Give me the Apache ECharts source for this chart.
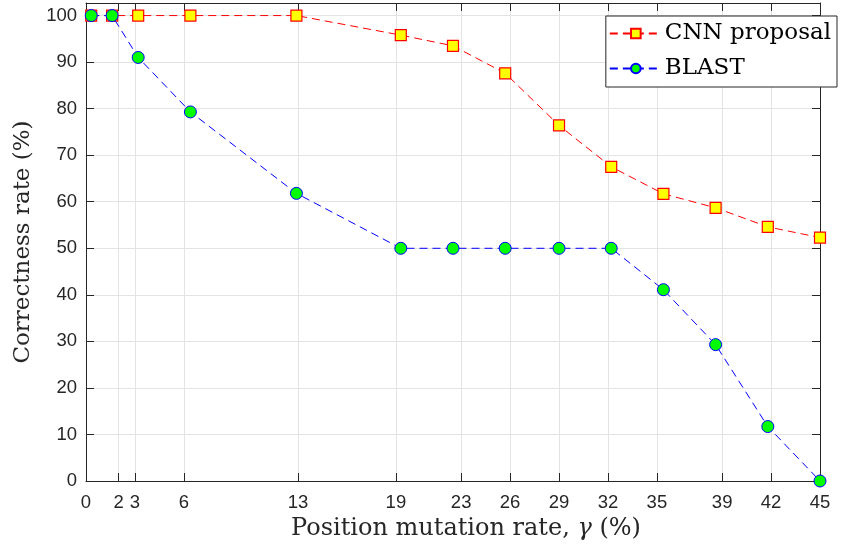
<!DOCTYPE html>
<html>
<head>
<meta charset="utf-8">
<script src="https://cdn.jsdelivr.net/npm/echarts@6/dist/echarts.min.js"></script>
<style>
  html, body { margin: 0; padding: 0; background: #fff; }
  #chart { width: 846px; height: 554px; }
</style>
</head>
<body>
<div id="chart"></div>
<script>
// position mutation rate (x) and correctness rate (y)
const xValues = [0.32, 1.6, 3.2, 6.4, 12.9, 19.3, 22.5, 25.7, 29.0, 32.2, 35.4, 38.6, 41.8, 45.0];
const cnnValues = [100, 100, 100, 100, 100, 95.8, 93.5, 87.6, 76.4, 67.5, 61.7, 58.7, 54.6, 52.3];
const blastValues = [100, 100, 91.0, 79.3, 61.8, 50, 50, 50, 50, 50, 41.1, 29.3, 11.7, 0];
const xTicks = [0, 2, 3, 6, 13, 19, 23, 26, 29, 32, 35, 39, 42, 45];
const yTicks = [0, 10, 20, 30, 40, 50, 60, 70, 80, 90, 100];

const axisColor = '#262626';
const gridColor = '#e3e3e3';
const tickFont = { color: axisColor, fontSize: 18.5, fontFamily: 'Liberation Sans, Arial, sans-serif' };
const titleFont = 'DejaVu Serif, serif';

function pairs(xs, ys) {
  return xs.map((x, i) => [x, ys[i]]);
}

let myChart = echarts.init(document.getElementById('chart'), null, { renderer: 'canvas' });
myChart.setOption({
  animation: false,
  backgroundColor: '#fff',
  grid: { left: 86, right: 26, top: 3, bottom: 73, containLabel: false },
  legend: {
    orient: 'vertical',
    right: 9,
    top: 16,
    backgroundColor: '#fff',
    borderColor: axisColor,
    borderWidth: 1,
    borderRadius: 0,
    padding: [6, 6, 7, 3],
    itemGap: 12,
    itemWidth: 52,
    itemHeight: 12,
    textStyle: { fontSize: 23, fontFamily: titleFont, color: '#000', padding: [0, 0, 0, -2] },
    data: ['CNN proposal', 'BLAST']
  },
  xAxis: [
    {
      type: 'value',
      min: 0,
      max: 45,
      name: 'Position mutation rate, {i|γ} (%)',
      nameLocation: 'middle',
      nameGap: 31,
      nameTextStyle: {
        fontSize: 24, fontFamily: titleFont, color: axisColor, padding: [0, 0, 0, 26],
        rich: { i: { fontSize: 24, fontFamily: titleFont, fontStyle: 'italic', color: axisColor } }
      },
      axisLine: { show: true, onZero: false, lineStyle: { color: axisColor, width: 1 } },
      axisTick: { show: true, inside: true, length: 8, customValues: xTicks, lineStyle: { color: axisColor } },
      axisLabel: { ...tickFont, margin: 12, customValues: xTicks },
      splitLine: { show: true, lineStyle: { color: gridColor, width: 1 } }
    },
    {
      type: 'value',
      position: 'top',
      min: 0,
      max: 45,
      axisLine: { show: true, onZero: false, lineStyle: { color: axisColor, width: 1 } },
      axisTick: { show: true, inside: true, length: 8, customValues: xTicks, lineStyle: { color: axisColor } },
      axisLabel: { show: false },
      splitLine: { show: false }
    }
  ],
  yAxis: [
    {
      type: 'value',
      min: 0,
      max: 102.7,
      name: 'Correctness rate (%)',
      nameLocation: 'middle',
      nameGap: 51,
      nameTextStyle: { fontSize: 23, fontFamily: titleFont, color: axisColor },
      axisLine: { show: true, onZero: false, lineStyle: { color: axisColor, width: 1 } },
      axisTick: { show: true, inside: true, length: 8, customValues: yTicks, lineStyle: { color: axisColor } },
      axisLabel: { ...tickFont, margin: 9, customValues: yTicks },
      splitLine: { show: true, lineStyle: { color: gridColor, width: 1 } }
    },
    {
      type: 'value',
      position: 'right',
      min: 0,
      max: 102.7,
      axisLine: { show: true, onZero: false, lineStyle: { color: axisColor, width: 1 } },
      axisTick: { show: true, inside: true, length: 8, customValues: yTicks, lineStyle: { color: axisColor } },
      axisLabel: { show: false },
      splitLine: { show: false }
    }
  ],
  series: [
    {
      name: 'CNN proposal',
      type: 'line',
      data: pairs(xValues, cnnValues),
      symbol: 'rect',
      symbolSize: 11,
      clip: false,
      z: 3,
      lineStyle: { color: '#ff0000', width: 1, type: [8, 5] },
      itemStyle: { color: '#ffff00', borderColor: '#ff0000', borderWidth: 1.2 }
    },
    {
      name: 'BLAST',
      type: 'line',
      data: pairs(xValues, blastValues),
      symbol: 'circle',
      symbolSize: 12,
      clip: false,
      z: 4,
      lineStyle: { color: '#0000ff', width: 1, type: [8, 5] },
      itemStyle: { color: '#00ff00', borderColor: '#0000ff', borderWidth: 1 }
    }
  ]
});
</script>
</body>
</html>
